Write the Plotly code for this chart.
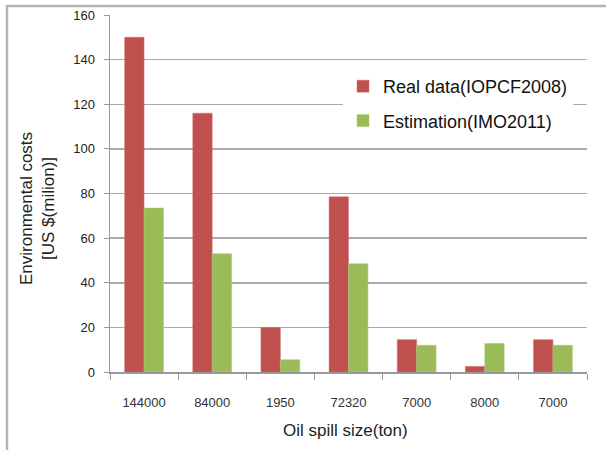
import plotly.graph_objects as go

categories = ["144000", "84000", "1950", "72320", "7000", "8000", "7000"]
real_data = [150, 116, 20, 78.5, 14.5, 2.5, 14.5]
estimation = [73.5, 53, 5.5, 48.5, 12, 12.8, 12]

positions = list(range(len(categories)))

W, H = 606, 450
L, R, T, B = 110, 19, 15, 78
pw, ph = W - L - R, H - T - B

def px_x(x):
    return (x - L) / pw

def px_y(y):
    return (H - B - y) / ph

fig = go.Figure()
fig.add_trace(go.Bar(x=positions, y=real_data, name="Real data(IOPCF2008)",
                     marker=dict(color="#C0504D", line=dict(color="#D0706D", width=0.5)),
                     legendgroup="a"))
fig.add_trace(go.Bar(x=positions, y=estimation, name="Estimation(IMO2011)",
                     marker=dict(color="#9BBB59", line=dict(color="#AECB70", width=0.5)),
                     legendgroup="b"))

fig.update_layout(
    width=W, height=H, autosize=False,
    margin=dict(l=L, r=R, t=T, b=B, autoexpand=False),
    paper_bgcolor="white", plot_bgcolor="white",
    barmode="group", bargap=0.43, bargroupgap=0,
    font=dict(family="Arial, Liberation Sans, sans-serif", color="#222"),
    showlegend=True,
    legend=dict(x=px_x(343), y=px_y(68), xanchor="left", yanchor="top",
                bgcolor="white", font=dict(size=18, color="#111"),
                tracegroupgap=8, itemwidth=30),
    xaxis=dict(range=[-0.5, 6.5], tickmode="array", tickvals=positions,
               ticktext=categories, ticks="", showgrid=False, automargin=False,
               showline=True, linecolor="#999", linewidth=1.5,
               tickfont=dict(size=13, color="#333"), ticklabelstandoff=18,
               minor=dict(tickmode="array", tickvals=[i - 0.5 for i in range(8)],
                          ticks="outside", ticklen=6, tickcolor="#999", showgrid=False),
               fixedrange=True),
    yaxis=dict(range=[0, 160], tickmode="array", tickvals=list(range(0, 161, 20)),
               showgrid=True, gridcolor="#aaaaaa", gridwidth=1.5, automargin=False,
               zeroline=False, showline=True, linecolor="#999", linewidth=1.5,
               ticks="outside", ticklen=5, tickcolor="#999", ticklabelstandoff=6,
               tickfont=dict(size=13, color="#222"), fixedrange=True),
)

fig.add_annotation(text="Environmental costs<br>[US $(milion)]", textangle=-90,
                   xref="paper", yref="paper", x=px_x(37), y=px_y(209),
                   xanchor="center", yanchor="middle",
                   showarrow=False, font=dict(size=17, color="#222"))
fig.add_annotation(text="Oil spill size(ton)", xref="paper", yref="paper",
                   x=px_x(345), y=px_y(430), xanchor="center", yanchor="middle",
                   showarrow=False, font=dict(size=17, color="#222"))

fig.add_shape(type="rect", xref="paper", yref="paper",
              x0=px_x(7), x1=px_x(640), y0=px_y(480), y1=px_y(6),
              line=dict(color="#b4b4b4", width=2.5), fillcolor="rgba(0,0,0,0)",
              layer="above")

fig.write_html("out.html", config={"displayModeBar": False, "staticPlot": True})

with open("out.html", "r", encoding="utf-8") as f:
    html = f.read()
html = html.replace("<head>", "<head><style>html,body{margin:0;padding:0;overflow:hidden;}</style>", 1)
with open("out.html", "w", encoding="utf-8") as f:
    f.write(html)
